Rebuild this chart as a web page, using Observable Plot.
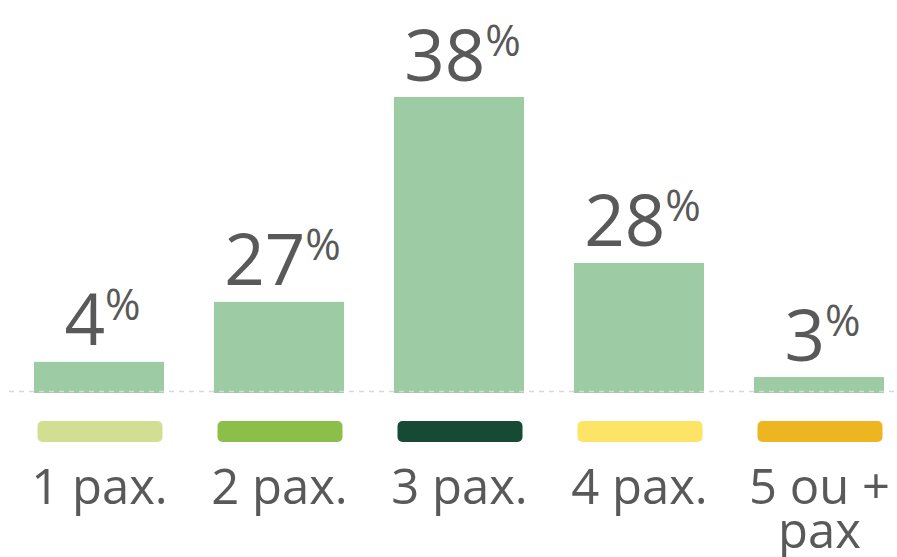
<!DOCTYPE html>
<html>
<head>
<meta charset="utf-8">
<script src="https://cdn.jsdelivr.net/npm/d3@7"></script>
<script src="https://cdn.jsdelivr.net/npm/@observablehq/plot@0.6"></script>
<style>
  html, body { margin: 0; padding: 0; background: #ffffff; }
  #chart svg { display: block; }
</style>
</head>
<body>
<div id="chart"></div>
<script>
// Categories (party size)
const categories = ["1 pax.", "2 pax.", "3 pax.", "4 pax.", "5 ou +\npax"];
// Percentages as printed on the chart
const shareLabels = [4, 27, 38, 28, 3];
// Bar lengths as drawn in the picture (percentage units)
const barLengths = [4.0, 11.7, 38, 16.7, 2.05];
// Legend swatch colours, one per category
const swatchColors = ["#d2df92", "#8cbe4a", "#174a34", "#fde466", "#edb520"];

const data = categories.map((c, i) => ({cat: c, label: shareLabels[i], len: barLengths[i]}));

const svg = Plot.plot({
  width: 897,
  height: 557,
  marginTop: 97,
  marginBottom: 164,
  marginLeft: 9,
  marginRight: 0,
  style: {fontFamily: "'Open Sans', sans-serif", color: "#595959", background: "#ffffff"},
  x: {domain: categories, range: [33, 885], paddingInner: 0.28, paddingOuter: 0, axis: null},
  y: {domain: [0, 38], axis: null},
  color: {domain: categories, range: swatchColors},
  marks: [
    Plot.barY(data, {x: "cat", y: "len", fill: "#9ccba4"}),
    Plot.ruleY([0], {stroke: "#d9d9d9", strokeWidth: 1.3, strokeDasharray: "5,5", dy: -2}),
    Plot.rect(data, {x: "cat", y1: 0, y2: 0, fill: d => d.cat, dy: 28, insetTop: 0, insetBottom: -21, insetLeft: 3.5, insetRight: 1.5, rx: 5}),
    Plot.text(data, {x: "cat", y: "len", text: d => d.label + "%", lineAnchor: "bottom", dy: -17, dx: 3, fontSize: 71, fill: "#595959"}),
    Plot.axisX({tickSize: 0, tickPadding: 79, fontSize: 49, lineHeight: 0.9, label: null, fill: "#595959"})
  ]
});

d3.select(svg).selectAll("text").each(function () {
  const t = this.textContent;
  if (!/^\d+%$/.test(t)) return;
  const num = t.replace("%", "");
  const sel = d3.select(this);
  sel.text(null);
  sel.append("tspan").text(num);
  sel.append("tspan").attr("font-size", 43).attr("dy", -25).text("%");
});

document.getElementById("chart").appendChild(svg);
</script>
</body>
</html>
